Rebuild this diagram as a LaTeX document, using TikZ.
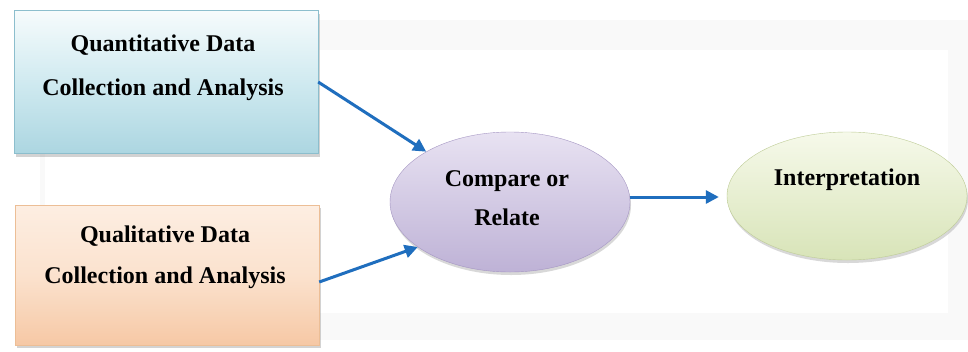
\documentclass[tikz,border=0pt]{standalone}
\usepackage{fontspec}
\setmainfont{Liberation Serif}
\usetikzlibrary{arrows.meta,shapes.geometric,shadows}
\definecolor{arrowblue}{RGB}{31,110,190}
\definecolor{bluetop}{RGB}{246,251,252}
\definecolor{bluemid}{RGB}{208,234,240}
\definecolor{bluebot}{RGB}{172,214,225}
\definecolor{blueedge}{RGB}{140,190,205}
\definecolor{orgtop}{RGB}{253,238,226}
\definecolor{orgmid}{RGB}{251,226,206}
\definecolor{orgbot}{RGB}{246,200,165}
\definecolor{orgedge}{RGB}{236,190,150}
\definecolor{purtop}{RGB}{232,226,242}
\definecolor{purbot}{RGB}{190,178,214}
\definecolor{puredge}{RGB}{165,150,195}
\definecolor{grntop}{RGB}{246,249,234}
\definecolor{grnbot}{RGB}{216,228,184}
\definecolor{grnedge}{RGB}{190,204,150}
\definecolor{bgband}{RGB}{249,249,249}
\tikzset{
  databox/.style={rectangle, minimum width=304pt, minimum height=143pt, inner sep=0pt,
    drop shadow={shadow xshift=2pt, shadow yshift=-3pt, opacity=0.35}},
  oval/.style={ellipse, minimum width=240pt, minimum height=136pt, inner sep=0pt,
    drop shadow={shadow xshift=1pt, shadow yshift=-3pt, opacity=0.3}},
  lbl/.style={font=\fontsize{24}{39}\selectfont\bfseries, align=center, inner sep=0pt},
  flow/.style={draw=arrowblue, line width=3pt, -{Triangle[length=13pt,width=13pt]}}
}
\begin{document}
\begin{tikzpicture}[x=1pt,y=-1pt]
\useasboundingbox (0,0) rectangle (968,351);
% faint background panel
\fill[bgband] (40,20) rectangle (968,340);
\fill[white] (45,50) rectangle (948,313);
% boxes
\node[databox, draw=blueedge, top color=bluetop, bottom color=bluebot, middle color=bluemid] (qt) at (166,82) {};
\node[databox, draw=orgedge, top color=orgtop, bottom color=orgbot, middle color=orgmid, minimum height=140pt] (ql) at (167,275) {};
\node[lbl] (qtt1) at (163,45) {Quantitative Data};
\node[lbl] (qtt2) at (163,90) {Collection and Analysis};
\node[lbl] (qlt1) at (165,236) {Qualitative Data};
\node[lbl] (qlt2) at (165,278) {Collection and Analysis};
% ellipses
\node[oval, draw=puredge, top color=purtop, bottom color=purbot, minimum height=140pt] (cr) at (510,202) {};
\node[lbl] (crt) at (507,198) {Compare or\\Relate};
\node[oval, draw=grnedge, top color=grntop, bottom color=grnbot, minimum height=128pt] (ip) at (847,196) {};
\node[lbl] (ipt) at (847,180) {Interpretation};
% connectors
\draw[flow] (qt.east) -- (cr.149);
\draw[flow] ([yshift=-7pt]ql.east) -- (cr.206);
\draw[flow] ([yshift=5pt]cr.east) -- ([yshift=-1pt,xshift=-8pt]ip.west);
\end{tikzpicture}
\end{document}
